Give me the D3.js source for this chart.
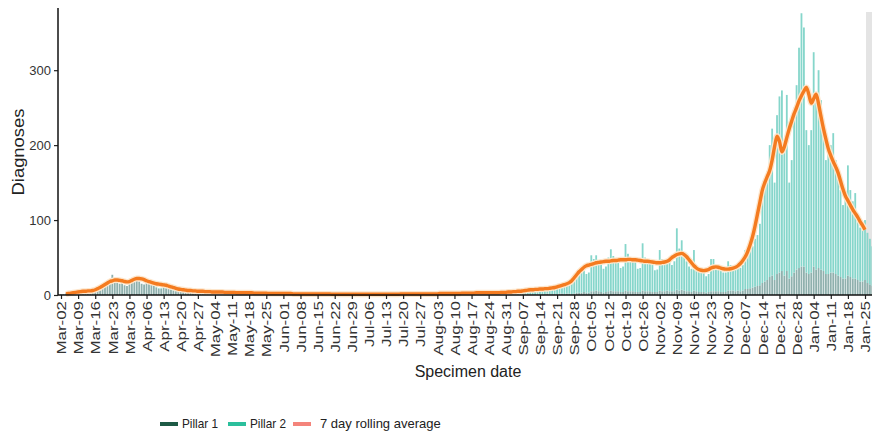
<!DOCTYPE html>
<html>
<head>
<meta charset="utf-8">
<script src="https://cdn.jsdelivr.net/npm/d3@7"></script>
<style>
  body { margin: 0; background: #fff; }
  text { font-family: "Liberation Sans", Arial, sans-serif; }
</style>
</head>
<body>
<div id="chart"></div>
<script>
// daily diagnoses by specimen date, starting 1 Mar 2020
const firstDay = new Date(2020, 2, 1);

const pillar1 = [
  // mar
  0,1,1,2,2,3,1,2,4,5,5,5,6,4,5,7,9,11,13,14,13,15,27,17,16,15,17,13,12,18,19,
  // apr
  19,20,18,15,14,16,15,14,12,10,8,8,10,9,8,7,6,5,5,5,4,4,4,3,3,3,3,3,2,2,
  // may
  2,1,1,2,1,1,1,1,1,1,1,1,1,1,1,1,0,1,1,1,1,0,0,1,0,1,1,0,0,0,0,
  // jun
  1,0,0,0,0,0,0,1,0,0,0,0,0,0,1,0,0,0,0,0,0,0,1,0,0,0,0,0,0,0,
  // jul
  0,0,0,0,0,0,0,0,0,0,0,0,0,1,0,0,0,0,0,0,0,0,0,0,0,0,1,0,0,0,0,
  // aug
  0,0,0,0,1,0,0,0,0,0,0,1,0,0,0,0,0,0,1,0,0,0,0,0,1,0,0,0,0,0,0,
  // sep
  1,0,1,1,0,1,1,1,1,1,1,0,1,1,1,1,2,1,1,1,1,2,2,1,2,2,1,2,3,3,
  // oct
  3,4,3,3,5,5,6,5,4,3,4,5,6,5,5,5,4,4,6,5,5,5,4,4,4,6,5,5,5,4,4,
  // nov
  4,6,5,5,6,5,5,5,7,6,7,6,5,5,4,6,5,4,4,4,3,4,5,5,5,5,4,4,4,6,
  // dec
  6,6,5,6,5,6,8,8,9,10,11,12,13,16,18,20,24,26,20,28,30,32,26,32,22,25,30,34,36,38,38,
  // jan
  30,28,30,38,34,36,34,32,28,28,30,30,28,26,24,22,22,26,24,22,22,20,18,18,20,16,14,12
];

const pillar2 = [
  // mar
  0,0,0,0,0,0,0,0,0,0,0,0,0,0,0,0,0,0,0,0,0,0,0,0,0,0,0,0,0,0,0,
  // apr
  0,0,0,0,0,0,0,0,1,1,1,1,1,1,1,1,1,1,1,2,2,1,1,2,1,1,2,2,2,2,
  // may
  2,2,2,2,3,2,2,2,1,1,2,2,2,1,1,1,2,1,1,1,1,1,1,1,1,1,1,2,1,1,1,
  // jun
  1,2,1,1,1,1,1,1,1,1,1,1,0,1,0,1,1,1,1,1,0,1,1,1,1,1,1,0,1,1,
  // jul
  1,1,1,1,0,1,1,1,1,1,1,1,1,1,1,1,1,1,1,1,1,1,1,1,1,1,1,1,2,1,1,
  // aug
  2,1,1,2,1,2,2,2,1,2,2,1,3,3,2,2,2,3,2,3,3,2,2,3,2,3,4,3,3,2,3,
  // sep
  3,4,4,4,4,3,4,5,6,7,6,6,5,7,8,8,8,8,7,8,10,12,12,14,14,12,14,17,21,25,
  // oct
  27,28,25,27,48,43,47,40,38,32,34,45,55,47,43,40,32,34,62,50,45,41,40,31,32,63,45,42,39,36,29,
  // nov
  30,54,43,40,41,41,35,40,82,56,66,49,40,33,31,54,35,31,29,26,22,24,43,43,35,33,32,26,26,39,
  // dec
  34,32,31,34,31,34,52,47,51,55,64,68,82,114,132,145,176,196,130,212,235,241,174,235,128,155,220,246,294,338,319,
  // jan
  190,172,190,286,236,264,226,198,152,162,170,186,152,144,116,98,108,147,116,103,114,85,72,77,80,67,61,53
];

// 7 day rolling average, 4 Mar 2020 - 25 Jan 2021
const rollingStart = new Date(2020, 2, 4);
const rolling = [
  // mar
  1.5,2,2.5,3,3.5,4,4.5,5,5,5.5,5.5,6,7,8.5,10,12,14,16,18,19,20,20,19.5,19,18,17.5,18,19.5,
  // apr
  21,22,22,21.5,20.5,19,18,17,16,15,14.5,14,13.5,13,12,11,10,9,8,7.5,7,6.5,6,6,5.5,5.5,5,5,5,4.5,
  // may
  4.5,4.5,4,4,4,4,4,3.5,3.5,3.5,3.5,3.5,3,3,3,3,3,3,3,2.5,2.5,2.5,2.5,2.5,2.5,2,2,2,2,2,2,
  // jun
  2,2,2,2,1.5,1.5,1.5,1.5,1.5,1.5,1.5,1.5,1.5,1.5,1.5,1.5,1.5,1.5,1.5,1.5,1,1,1,1,1,1,1,1,1,1,
  // jul
  1,1,1,1,1,1,1,1,1,1,1,1,1,1,1,1,1,1,1.5,1.5,1.5,1.5,1.5,1.5,1.5,1.5,1.5,1.5,1.5,1.5,1.5,
  // aug
  1.5,1.5,1.5,2,2,2,2,2,2,2,2,2,2.5,2.5,2.5,2.5,2.5,2.5,3,3,3,3,3,3,3,3,3,3,3.5,3.5,3.5,
  // sep
  4,4,4.5,4.5,5,5,5.5,6,6.5,7,7,7.5,7.5,8,8,8.5,8.5,9,9.5,10,11,12,13,14,15,16.5,19,23,27,31,
  // oct
  34,37,39,40,41,42,43,43.5,44,44.5,45,45,45.5,46,46,46.5,47,47,47,47.5,47.5,47,47,46.5,46,45.5,45,45,44.5,44,43.5,
  // nov
  43,43,43.5,44,45,47,50,52,54,55,55.5,54,51,47,43,39,36,34,33,32.5,33,34,36,37,37.5,37,36,35,34.5,34.5,
  // dec
  35,36,37,39,42,46,51,58,67,78,92,108,124,140,150,158,166,180,198,212,205,191,198,210,222,232,242,250,259,266,272,
  // jan
  277,268,256,262,268,255,238,222,208,195,186,178,171,163,152,141,132,126,120,114,109,104,98,93,87
];

// weekly tick labels, starting Monday 2 Mar 2020
const tickStart = new Date(2020, 2, 2);
const tickLabels = ["Mar-02","Mar-09","Mar-16","Mar-23","Mar-30","Apr-06","Apr-13","Apr-20","Apr-27",
  "May-04","May-11","May-18","May-25","Jun-01","Jun-08","Jun-15","Jun-22","Jun-29","Jul-06","Jul-13",
  "Jul-20","Jul-27","Aug-03","Aug-10","Aug-17","Aug-24","Aug-31","Sep-07","Sep-14","Sep-21","Sep-28",
  "Oct-05","Oct-12","Oct-19","Oct-26","Nov-02","Nov-09","Nov-16","Nov-23","Nov-30","Dec-07","Dec-14",
  "Dec-21","Dec-28","Jan-04","Jan-11","Jan-18","Jan-25"];
const yTicks = [0, 100, 200, 300];

const legendItems = [
  { label: "Pillar 1", color: "#1d5a45", narrow: true },
  { label: "Pillar 2", color: "#2bbf9c", narrow: true },
  { label: "7 day rolling average", color: "#f4847b", narrow: false }
];

// incomplete data period (shaded)
const incompleteStart = new Date(2021, 0, 25);

const width = 872;
const height = 437;

const svg = d3.select("#chart")
    .append("svg")
    .attr("width", width)
    .attr("height", height);

const x = d3.scaleTime()
    .domain([tickStart, new Date(2021, 0, 25)])
    .range([61, 865]);

const y = d3.scaleLinear()
    .domain([0, 383])
    .range([295, 8]);

const dayWidth = x(new Date(2020, 2, 3)) - x(new Date(2020, 2, 2));
const barW = dayWidth * 0.74;

const days = pillar1.map((d, i) => ({
    date: d3.timeDay.offset(firstDay, i),
    p1: d,
    p2: pillar2[i]
}));

const avg = rolling.map((v, i) => ({ date: d3.timeDay.offset(rollingStart, i), v: v }));

// grey band for incomplete days
svg.append("rect")
    .attr("x", x(incompleteStart) + 1)
    .attr("y", y(383) + 4)
    .attr("width", 40)
    .attr("height", y(0) - y(383) - 4)
    .attr("fill", "#e4e4e4");

// stacked bars
const bars = svg.append("g");
bars.selectAll(".p1")
    .data(days)
    .join("rect")
    .attr("class", "p1")
    .attr("x", d => x(d.date) - barW / 2)
    .attr("width", barW)
    .attr("y", d => y(d.p1))
    .attr("height", d => y(0) - y(d.p1))
    .attr("fill", "#8fb0ad");

bars.selectAll(".p2")
    .data(days)
    .join("rect")
    .attr("class", "p2")
    .attr("x", d => x(d.date) - barW / 2)
    .attr("width", barW)
    .attr("y", d => y(d.p1 + d.p2))
    .attr("height", d => y(d.p1) - y(d.p1 + d.p2))
    .attr("fill", "#86d6cb");

// rolling average line
const line = d3.line()
    .x(d => x(d.date))
    .y(d => y(d.v))
    .curve(d3.curveMonotoneX);

svg.append("path")
    .datum(avg)
    .attr("d", line)
    .attr("fill", "none")
    .attr("stroke", "#fde6cc")
    .attr("stroke-width", 6)
    .attr("stroke-linejoin", "round");

svg.append("path")
    .datum(avg)
    .attr("d", line)
    .attr("fill", "none")
    .attr("stroke", "#f47b20")
    .attr("stroke-width", 3.4)
    .attr("stroke-linejoin", "round");

// x axis
const tickDates = tickLabels.map((t, i) => d3.timeDay.offset(tickStart, i * 7));
const xAxis = svg.append("g")
    .attr("transform", "translate(0," + y(0) + ")")
    .call(d3.axisBottom(x)
        .tickValues(tickDates)
        .tickFormat((d, i) => tickLabels[i])
        .tickSize(4)
        .tickSizeOuter(0));
xAxis.select(".domain").remove();
xAxis.selectAll(".tick line").attr("stroke", "#222").attr("stroke-width", 1.2);
// labels look stretched along their length in the reference
xAxis.selectAll("text")
    .attr("transform", "rotate(-90) scale(1.3,1)")
    .attr("text-anchor", "end")
    .attr("x", -6 / 1.3)
    .attr("y", 0)
    .attr("dy", "0.36em")
    .attr("fill", "#333")
    .style("font-size", "13px");

// y axis
const yAxis = svg.append("g")
    .attr("transform", "translate(58,0)")
    .call(d3.axisLeft(y).tickValues(yTicks).tickSize(4));
yAxis.select(".domain").remove();
yAxis.selectAll(".tick line").attr("stroke", "#222").attr("stroke-width", 1.2);
yAxis.selectAll("text")
    .attr("fill", "#333")
    .style("font-size", "13px");

// axis lines
svg.append("line")
    .attr("x1", 58).attr("x2", 58)
    .attr("y1", 8).attr("y2", y(0))
    .attr("stroke", "#111").attr("stroke-width", 1.5);
svg.append("line")
    .attr("x1", 58).attr("x2", width)
    .attr("y1", y(0)).attr("y2", y(0))
    .attr("stroke", "#111").attr("stroke-width", 1.5);

// axis titles
svg.append("text")
    .attr("transform", "translate(24,152) rotate(-90) scale(1.15,1)")
    .attr("text-anchor", "middle")
    .attr("fill", "#222")
    .style("font-size", "16px")
    .text("Diagnoses");

svg.append("text")
    .attr("x", 468)
    .attr("y", 377)
    .attr("text-anchor", "middle")
    .attr("fill", "#222")
    .style("font-size", "16px")
    .text("Specimen date");

// legend
const legendX = [160, 228, 293];
const legend = svg.append("g");
legendItems.forEach((d, i) => {
    legend.append("line")
        .attr("x1", legendX[i]).attr("x2", legendX[i] + 18)
        .attr("y1", 424).attr("y2", 424)
        .attr("stroke", d.color)
        .attr("stroke-width", 4);
    const t = legend.append("text")
        .attr("x", legendX[i] + (d.narrow ? 22 : 27))
        .attr("y", 428)
        .attr("fill", "#222")
        .style("font-size", "13px")
        .text(d.label);
    if (d.narrow) {
        t.style("font-family", "'Liberation Sans Narrow', 'Liberation Sans', Arial, sans-serif")
            .attr("textLength", 36)
            .attr("lengthAdjust", "spacingAndGlyphs");
    }
});
</script>
</body>
</html>
